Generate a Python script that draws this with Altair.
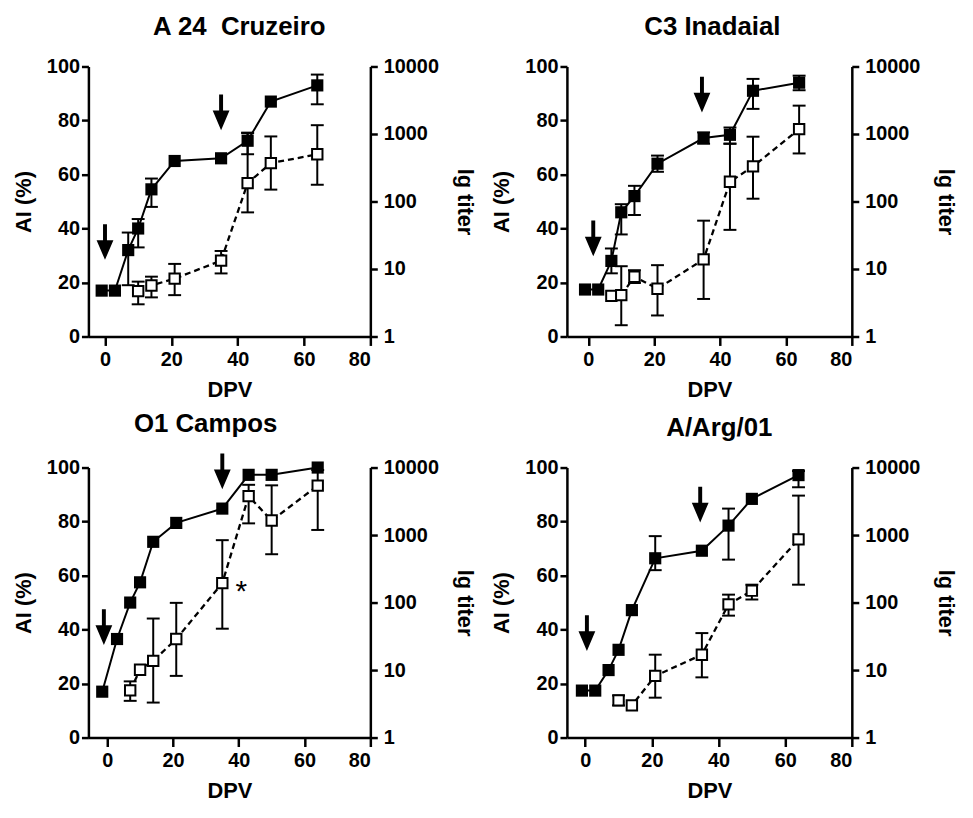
import altair as alt
import pandas as pd

# ---------------- data ----------------
titles = ["A 24\u00a0 Cruzeiro", "C3 Inadaial", "O1 Campos", "A/Arg/01"]

# Panel 1: A 24 Cruzeiro
p1_ai_dpv = [-1, 3, 7, 10, 14, 21, 35, 43, 50, 64]
p1_ai = [17, 17, 32, 40, 54.5, 65, 66, 72.5, 87, 93]
p1_ai_lo = [None, None, 19, 33, 48, None, None, 67.5, None, 86]
p1_ai_hi = [None, None, 38.5, 43.5, 58.5, None, None, 75.5, None, 97]
p1_ti_dpv = [10, 14, 21, 35, 43, 50, 64]
p1_titer = [4.7, 5.7, 7.2, 13.3, 187, 370, 500]
p1_ti_lo = [3.0, 3.8, 4.1, 8.6, 69, 150, 177]
p1_ti_hi = [6.5, 7.7, 11.9, 18.5, 1030, 920, 1350]
p1_arrow_dpv = [0, 35]
p1_arrow_ai = [35, 83]

# Panel 2: C3 Inadaial
p2_ai_dpv = [-1, 3, 7, 10, 14, 21, 35, 43, 50, 64]
p2_ai = [17.4, 17.4, 28, 46, 52, 64, 73.5, 74.7, 91, 94]
p2_ai_lo = [None, None, 23.4, 37.8, 45, 61, 71.4, 71.4, 84.3, 91.2]
p2_ai_hi = [None, None, 32.6, 49, 55.8, 67, 75.6, 77.4, 95.4, 96.6]
p2_ti_dpv = [7, 10, 14, 21, 35, 43, 50, 64]
p2_titer = [4.0, 4.1, 7.7, 5.1, 13.9, 196, 331, 1180]
p2_ti_lo = [None, 1.47, 6.2, 2.05, 3.6, 38, 110, 515]
p2_ti_hi = [None, 11, 9.6, 11.4, 52, 718, 912, 2630]
p2_arrow_dpv = [1.5, 34.5]
p2_arrow_ai = [36.3, 89.6]

# Panel 3: O1 Campos
p3_ai_dpv = [-1.5, 3, 7, 10, 14, 21, 35, 43, 50, 64]
p3_ai = [17, 36.5, 50, 57.5, 72.5, 79.5, 84.8, 97.3, 97.3, 100]
p3_ai_lo = [None] * 10
p3_ai_hi = [None] * 10
p3_ti_dpv = [7, 10, 14, 21, 35, 43, 50, 64]
p3_titer = [5.0, 10.1, 13.7, 28.8, 194, 3770, 1640, 5400]
p3_ti_lo = [3.5, None, 3.3, 8.2, 41, 1490, 520, 1190]
p3_ti_hi = [6.8, None, 58, 99, 840, 5550, 5450, 9200]
p3_arrow_dpv = [-1, 35]
p3_arrow_ai = [40.9, 98.6]
p3_star_dpv = [40.8]
p3_star_ai = [56]
p3_star_text = ["*"]

# Panel 4: A/Arg/01
p4_ai_dpv = [-1, 3, 7, 10, 14, 21, 35, 43, 50, 64]
p4_ai = [17.4, 17.4, 25, 32.5, 47.2, 66.4, 69.2, 78.5, 88.4, 97.2]
p4_ai_lo = [None, None, None, None, None, 62, None, 65.9, None, 92.7]
p4_ai_hi = [None, None, None, None, None, 74.6, None, 84.8, None, 98.7]
p4_ti_dpv = [10, 14, 21, 35, 43, 50, 64]
p4_titer = [3.56, 3.0, 8.2, 16.9, 94, 150, 863]
p4_ti_lo = [3.0, None, 3.9, 7.8, 64, 111, 184]
p4_ti_hi = [4.2, None, 16.9, 35.3, 131, 184, 3840]
p4_arrow_dpv = [0.5, 34.5]
p4_arrow_ai = [38.7, 86.3]

x_ticks = [0, 20, 40, 60, 80]
ai_ticks = [0, 20, 40, 60, 80, 100]
titer_ticks = [1, 10, 100, 1000, 10000]

# ---------------- styling ----------------
FONT = "Liberation Sans"
W1, W2, H = 284, 287, 272
ARROW = "M-0.11,-1 L0.11,-1 L0.11,-0.1 L0.47,-0.1 L0,1 L-0.47,-0.1 L-0.11,-0.1 Z"
CAP = "M-1,0 L1,0"


def panel(name, ai_x, ai_y, ai_lo, ai_hi, ti_x, ti_y, ti_lo, ti_hi,
          ar_x, ar_y, xmin, title_dx, width, star=None):
    xs = alt.Scale(domain=[xmin, 80], nice=False, zero=False)
    x_axis = alt.Axis(values=x_ticks, title="DPV")

    def X(f):
        return alt.X(f"{f}:Q", scale=xs, axis=x_axis)

    ais = alt.Scale(domain=[0, 100], nice=False, zero=False)
    ai_axis = alt.Axis(values=ai_ticks, title="AI (%)", orient="left",
                       titlePadding=11, labelPadding=2)

    def YA(f):
        return alt.Y(f"{f}:Q", scale=ais, axis=ai_axis)

    tis = alt.Scale(type="log", domain=[1, 10000], nice=False)
    ti_axis = alt.Axis(values=titer_ticks, format="d", title="lg titer",
                       orient="right", titlePadding=14, labelPadding=6)

    def YT(f):
        return alt.Y(f"{f}:Q", scale=tis, axis=ti_axis)

    filled = pd.DataFrame({"dpv": ai_x, "ai": ai_y})
    ferr = pd.DataFrame({"dpv": ai_x, "lo": ai_lo, "hi": ai_hi}).dropna()
    opn = pd.DataFrame({"dpv": ti_x, "titer": ti_y})
    oerr = pd.DataFrame({"dpv": ti_x, "lo": ti_lo, "hi": ti_hi}).dropna()
    arr = pd.DataFrame({"dpv": ar_x, "ai": ar_y})

    ai_layers = [
        alt.Chart(filled).mark_line(color="black", strokeWidth=2).encode(
            x=X("dpv"), y=YA("ai")),
    ]
    if len(ferr):
        ai_layers += [
            alt.Chart(ferr).mark_rule(color="black", strokeWidth=2).encode(
                x=X("dpv"), y=YA("lo"), y2="hi"),
            alt.Chart(ferr).mark_point(shape=CAP, size=169, color="black",
                                       strokeWidth=2, filled=False, opacity=1).encode(
                x=X("dpv"), y=YA("lo")),
            alt.Chart(ferr).mark_point(shape=CAP, size=169, color="black",
                                       strokeWidth=2, filled=False, opacity=1).encode(
                x=X("dpv"), y=YA("hi")),
        ]
    ai_layers += [
        alt.Chart(filled).mark_point(shape="square", size=150, filled=True,
                                     color="black", opacity=1).encode(
            x=X("dpv"), y=YA("ai")),
        alt.Chart(arr).mark_point(shape=ARROW, size=1296, filled=True,
                                  color="black", opacity=1).encode(
            x=X("dpv"), y=YA("ai")),
    ]
    if star is not None:
        sdf = pd.DataFrame({"dpv": star[0], "ai": star[1], "t": star[2]})
        ai_layers.append(
            alt.Chart(sdf).mark_text(font=FONT, fontSize=30, color="black",
                                     baseline="middle", dy=6).encode(
                x=X("dpv"), y=YA("ai"), text="t:N"))

    ti_layers = [
        alt.Chart(opn).mark_line(color="black", strokeWidth=2.3,
                                 strokeDash=[6, 4]).encode(
            x=X("dpv"), y=YT("titer")),
        alt.Chart(oerr).mark_rule(color="black", strokeWidth=2).encode(
            x=X("dpv"), y=YT("lo"), y2="hi"),
        alt.Chart(oerr).mark_point(shape=CAP, size=169, color="black",
                                   strokeWidth=2, filled=False, opacity=1).encode(
            x=X("dpv"), y=YT("lo")),
        alt.Chart(oerr).mark_point(shape=CAP, size=169, color="black",
                                   strokeWidth=2, filled=False, opacity=1).encode(
            x=X("dpv"), y=YT("hi")),
        alt.Chart(opn).mark_point(shape="square", size=110, filled=True,
                                  fill="white", stroke="black", strokeWidth=2,
                                  opacity=1).encode(
            x=X("dpv"), y=YT("titer")),
    ]

    return alt.layer(alt.layer(*ai_layers), alt.layer(*ti_layers)).resolve_scale(
        y="independent"
    ).properties(
        width=width, height=H,
        title=alt.TitleParams(name, dx=title_dx),
    )


c1 = panel(titles[0], p1_ai_dpv, p1_ai, p1_ai_lo, p1_ai_hi, p1_ti_dpv, p1_titer,
           p1_ti_lo, p1_ti_hi, p1_arrow_dpv, p1_arrow_ai, -5, 10, W1)
c2 = panel(titles[1], p2_ai_dpv, p2_ai, p2_ai_lo, p2_ai_hi, p2_ti_dpv, p2_titer,
           p2_ti_lo, p2_ti_hi, p2_arrow_dpv, p2_arrow_ai, -6.5, 3, W2)
c3 = panel(titles[2], p3_ai_dpv, p3_ai, p3_ai_lo, p3_ai_hi, p3_ti_dpv, p3_titer,
           p3_ti_lo, p3_ti_hi, p3_arrow_dpv, p3_arrow_ai, -5.7, -24, W1,
           star=(p3_star_dpv, p3_star_ai, p3_star_text))
c4 = panel(titles[3], p4_ai_dpv, p4_ai, p4_ai_lo, p4_ai_hi, p4_ti_dpv, p4_titer,
           p4_ti_lo, p4_ti_hi, p4_arrow_dpv, p4_arrow_ai, -5.5, 10, W2)

chart = alt.vconcat(
    alt.hconcat(c1, c2, spacing=15),
    alt.hconcat(c3, c4, spacing=15),
    spacing=10,
).properties(
    padding={"left": 4, "right": 8, "top": 3, "bottom": 0},
    background="white",
).configure_view(
    stroke=None
).configure_axis(
    grid=False,
    domainColor="black", domainWidth=2.5,
    tickColor="black", tickWidth=2.5, tickSize=7,
    labelFont=FONT, labelFontSize=20, labelFontWeight="bold", labelColor="black",
    titleFont=FONT, titleFontSize=22, titleFontWeight="bold", titleColor="black",
).configure_axisX(
    tickSize=9, labelPadding=4, titlePadding=10,
).configure_title(
    font=FONT, fontSize=26, fontWeight="bold", color="black",
    anchor="middle", frame="group", offset=17,
)

chart.save("out.html", embed_options={"renderer": "svg", "actions": False})
